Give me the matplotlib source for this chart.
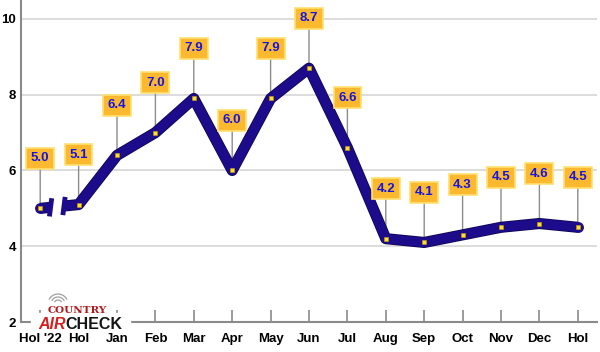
import matplotlib
matplotlib.use("Agg")
import matplotlib.pyplot as plt
from matplotlib.patches import Arc, Rectangle
import matplotlib.patheffects as pe

categories = ["Hol '22", "Hol", "Jan", "Feb", "Mar", "Apr", "May", "Jun",
              "Jul", "Aug", "Sep", "Oct", "Nov", "Dec", "Hol"]
values = [5.0, 5.1, 6.4, 7.0, 7.9, 6.0, 7.9, 8.7, 6.6, 4.2, 4.1, 4.3, 4.5, 4.6, 4.5]
yticks = [2, 4, 6, 8, 10]

fam = ['Liberation Sans', 'DejaVu Sans']

fig = plt.figure(figsize=(6, 3.52), dpi=100)
ax = fig.add_axes([0.035, 0.0852, 0.96, 0.9148])
ax.set_xlim(-0.5, 14.5)
ax.set_ylim(2, 10.5)

for s in ['top', 'right']:
    ax.spines[s].set_visible(False)
ax.spines['left'].set_color('#8a8a8a')
ax.spines['left'].set_linewidth(1.5)
ax.spines['bottom'].set_color('#8a8a8a')
ax.spines['bottom'].set_linewidth(1.5)

for y in yticks[1:]:
    ax.axhline(y, color='#d9d9d9', lw=1.3, zorder=0)

x = list(range(len(values)))
ax.set_xticks(x)
ax.set_xticklabels(categories, fontsize=9.5, fontweight='bold', family=fam)
ax.tick_params(axis='x', direction='in', length=9, width=1.2, color='#8a8a8a', pad=8)
ax.set_yticks(yticks)
ax.set_yticklabels([str(v) for v in yticks], fontsize=9.5, fontweight='bold', family=fam)
ax.tick_params(axis='y', length=0, pad=3.5)

lc = '#1c0c8c'
lw = 6.8
shadow = [pe.Stroke(linewidth=lw + 1.2, foreground='#0d0650'), pe.Normal()]
d = values[1] - values[0]
s1 = 0.27
ax.plot([0, s1], [values[0], values[0] + d * s1], color=lc, lw=lw,
        solid_capstyle='butt', zorder=3, path_effects=shadow)
ax.plot([0], [values[0]], 'o', color=lc, ms=lw, zorder=3)
s2 = 0.62
xs = [s2] + x[1:]
ys = [values[0] + d * s2] + values[1:]
ax.plot(xs, ys, color=lc, lw=lw, solid_capstyle='butt', solid_joinstyle='round',
        zorder=3, path_effects=shadow)
ax.plot([x[-1]], [values[-1]], 'o', color=lc, ms=lw, zorder=3)
for sx in (s1, s2):
    yc = values[0] + d * sx
    ax.plot([sx + 0.03, sx - 0.03], [yc + 0.24, yc - 0.24], color=lc, lw=3.5,
            solid_capstyle='butt', zorder=3)
ax.plot(x, values, 's', color='#ffe030', ms=3.2, mec='#c8a000', mew=0.4, zorder=4)

for xi, v in zip(x, values):
    ax.annotate('', xy=(xi, v), xytext=(0, 30), textcoords='offset points',
                arrowprops=dict(arrowstyle='-', color='#8c8c8c', lw=1.0,
                                shrinkA=0, shrinkB=0), zorder=2)
    ax.annotate(f'{v:.1f}', xy=(xi, v), xytext=(0, 36), textcoords='offset points',
                ha='center', va='center', fontsize=9.5, fontweight='bold', color='#1515e0',
                family=fam,
                bbox=dict(boxstyle='square,pad=0.35', fc='#fcb930', ec='#ffe070', lw=1.2),
                zorder=5)

# logo
fig.patches.append(Rectangle((0.052, 0.062), 0.165, 0.05, transform=fig.transFigure,
                             color='white', zorder=10))
fig.text(0.128, 0.118, 'COUNTRY', ha='center', va='center', fontsize=7.5, fontweight='bold',
         color='#b01c1c', family=['DejaVu Serif'], zorder=11)
fig.text(0.064, 0.077, 'AIR', ha='left', va='center', fontsize=11.5, fontweight='bold',
         style='italic', color='#d42020', family=['Liberation Sans'], zorder=11)
fig.text(0.109, 0.077, 'CHECK', ha='left', va='center', fontsize=11.5, fontweight='bold',
         color='#151515', family=['Liberation Sans'], zorder=11)
for r in [4, 7, 10]:
    fig.patches.append(Arc((58 / 600, 1 - 304 / 352), 2 * r / 600, 2 * r / 352,
                           theta1=40, theta2=140, transform=fig.transFigure,
                           color='#a0a0a0', lw=0.9, zorder=11))

fig.savefig('out.png', dpi=100)
